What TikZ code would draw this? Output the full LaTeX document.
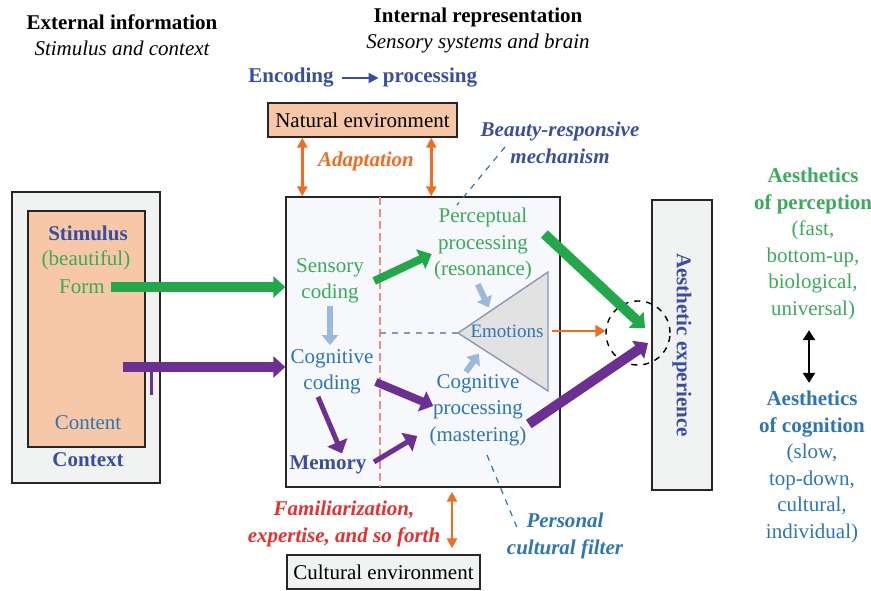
\documentclass[tikz,border=0pt]{standalone}
\usepackage{fontspec}
\setmainfont{Liberation Serif}
\usepackage{xcolor}
\usepackage{tikz}
\usetikzlibrary{arrows.meta,calc}

\definecolor{leafgreen}{HTML}{22A84A}
\definecolor{textgreen}{HTML}{3BAA5B}
\definecolor{inkblue}{HTML}{3A4E9F}
\definecolor{skyblue}{HTML}{2E75B6}
\definecolor{grape}{HTML}{6B3092}
\definecolor{tangerine}{HTML}{F26B23}
\definecolor{alertred}{HTML}{E8302E}
\definecolor{peach}{HTML}{F6C8A8}
\definecolor{paper}{HTML}{F1F2F2}
\definecolor{mist}{HTML}{F6F8FB}
\definecolor{steel}{HTML}{9CB8DB}
\definecolor{salmon}{HTML}{F28B8B}
\definecolor{slate}{HTML}{8A98B4}
\definecolor{cone}{HTML}{E2E2E2}

\begin{document}
\fontsize{10.5}{13.25}\selectfont
\begin{tikzpicture}[x=0.5pt,y=-0.5pt,
    every node/.style={align=center,inner sep=1pt},
    panel/.style={draw=black!85,line width=0.7pt,inner sep=0pt},
    fatarrow/.style={line width=#1,-{Triangle[length=6pt,width=10.5pt]}},
    hintarrow/.style={steel,line width=3pt,-{Triangle[length=5pt,width=8pt]}},
    twoway/.style={tangerine,line width=1.2pt,{Triangle[length=5pt,width=5pt]}-{Triangle[length=5pt,width=5pt]}}]
    \useasboundingbox (0,0) rectangle (871,590);

    % headings
    \node[font=\bfseries] (exthead) at (122,22) {External information};
    \node[font=\itshape] (extsub) at (122,48) {Stimulus and context};
    \node[font=\bfseries] (inthead) at (478,17) {Internal representation};
    \node[font=\itshape] (intsub) at (478,43) {Sensory systems and brain};
    \node[font=\bfseries,text=inkblue] (encode) at (291,78) {Encoding};
    \node[font=\bfseries,text=inkblue] (process) at (430,78) {processing};
    \draw[inkblue,line width=1pt,-{Triangle[length=5pt,width=5pt]},shorten <=3pt,shorten >=1pt] (encode) -- (process);

    % boxes
    \node[panel,fill=paper,minimum width=74pt,minimum height=145.5pt] (context) at (86,337.5) {};
    \node[panel,fill=peach,minimum width=58.5pt,minimum height=118pt] (stimbox) at (86.5,329) {};
    \node[panel,fill=peach,minimum width=94.5pt,minimum height=17pt] (natenv) at (362.5,120) {Natural environment};
    \node[panel,fill=mist,minimum width=137pt,minimum height=145pt] (brain) at (423,342) {};
    \node[panel,fill=paper,minimum width=30pt,minimum height=145pt] (aexp) at (682,345) {};
    \node[panel,fill=paper,minimum width=96.5pt,minimum height=17pt] (culenv) at (383.5,572) {Cultural environment};
    \node[rotate=-90,font=\bfseries,text=inkblue] (aexplabel) at (aexp.center) {Aesthetic experience};

    % stimulus side
    \node[font=\bfseries,text=inkblue] (stimulus) at (88,233) {Stimulus};
    \node[text=textgreen] (beautiful) at (86,260) {(beautiful)};
    \node[text=textgreen] (form) at (82,287) {Form};
    \node[text=skyblue] (content) at (88,423) {Content};
    \node[font=\bfseries,text=inkblue] (contextlabel) at (88,460) {Context};
    \coordinate (contentin) at (123,367);
    \draw[grape,line width=1.5pt] (151,367) -- (151,395);
    \draw[leafgreen,fatarrow=5pt,shorten <=2pt] (form.east) -- (form.east -| brain.west);
    \draw[grape,fatarrow=5pt] (contentin) -- (contentin -| brain.west);

    % divider and cone
    \coordinate (divtop) at (380,197);
    \coordinate (divbot) at (380,487);
    \draw[salmon,line width=0.8pt,dash pattern=on 4pt off 2pt] (divtop) -- (divbot);
    \coordinate (tipL) at (458,333);
    \coordinate (tipT) at (548,272);
    \coordinate (tipB) at (548,391);
    \draw[slate,fill=cone,line width=0.7pt] (tipL) -- (tipT) -- (tipB) -- cycle;
    \draw[slate,line width=0.8pt,dashed] (divtop |- tipL) -- (tipL);
    \node[text=skyblue,font=\fontsize{9.5}{11}\selectfont] (emotions) at (507,331) {Emotions};

    % processing stages
    \node[text=textgreen] (sensory) at (330,281) {Sensory\\coding};
    \node[text=skyblue] (cogcode) at (332,372) {Cognitive\\coding};
    \node[font=\bfseries,text=inkblue] (memory) at (328,465) {Memory};
    \node[text=textgreen] (percept) at (483,244) {Perceptual\\processing\\(resonance)};
    \node[text=skyblue] (cogproc) at (478,410) {Cognitive\\processing\\(mastering)};

    \draw[hintarrow,shorten >=1pt] (sensory.south) -- (sensory.south |- cogcode.north);
    \draw[hintarrow,shorten <=1pt,shorten >=2pt] ([xshift=-3pt]percept.south) -- ($(tipL)!0.36!(tipT)$);
    \draw[hintarrow,shorten >=3pt] ([xshift=-6pt]cogproc.north) -- ($(tipL)!0.27!(tipB)$);
    \draw[leafgreen,fatarrow=4pt] ([xshift=4pt]sensory.east) -- ([yshift=-5pt]percept.west);
    \draw[grape,fatarrow=4pt] ([yshift=-5pt]cogcode.east) -- ([shift={(3pt,2pt)}]cogproc.west);
    \draw[grape,fatarrow=2.5pt] ([xshift=-7pt]cogcode.south) -- ([xshift=7pt]memory.north);
    \draw[grape,fatarrow=2.5pt,shorten <=3pt] (memory.east) -- ([shift={(-5pt,-13pt)}]cogproc.west);

    % towards the experience
    \node[circle,draw,dashed,line width=0.7pt,minimum size=32pt,inner sep=0pt] (focus) at (638,333) {};
    \draw[tangerine,line width=1pt,-{Triangle[length=5pt,width=6pt]},shorten <=3pt] (emotions.east) -- (emotions.east -| focus.west);
    \draw[leafgreen,fatarrow=5pt] ([shift={(5pt,5pt)}]percept.east) -- ([shift={(3.5pt,2.5pt)}]focus.center);
    \draw[grape,fatarrow=5pt] ([yshift=-7pt]cogproc.east) -- ([shift={(5pt,-5pt)}]focus.center);

    % environments
    \coordinate (adaptL) at ([xshift=17.5pt]natenv.south west);
    \coordinate (adaptR) at ([xshift=82pt]natenv.south west);
    \draw[twoway] (adaptL) -- (adaptL |- brain.north);
    \draw[twoway] (adaptR) -- (adaptR |- brain.north);
    \node[font=\bfseries\itshape,text=tangerine] (adapt) at (366,161) {Adaptation};
    \coordinate (famtop) at ([xshift=14.5pt]brain.south);
    \draw[twoway,shorten <=2pt,shorten >=3pt] (famtop) -- (famtop |- culenv.north);
    \node[font=\bfseries\itshape,text=alertred] (familiar) at (344,524) {Familiarization,\\expertise, and so forth};

    % dashed pointers
    \node[font=\bfseries\itshape,text=inkblue] (beauty) at (560,143) {Beauty-responsive\\mechanism};
    \coordinate (beautyfrom) at (505,147);
    \coordinate (beautyto) at (457,205);
    \draw[skyblue,line width=0.6pt,dashed] (beautyfrom) -- (beautyto);
    \node[font=\bfseries\itshape,text=skyblue] (personal) at (565,536) {Personal\\cultural filter};
    \coordinate (filterfrom) at (487,455);
    \coordinate (filterto) at (518,530);
    \draw[skyblue,line width=0.6pt,dashed] (filterfrom) -- (filterto);

    % two aesthetics
    \node[text=textgreen] (perception) at (813,244) {\textbf{Aesthetics}\\\textbf{of perception}\\(fast,\\bottom-up,\\biological,\\universal)};
    \node[text=skyblue] (cognition) at (812,467) {\textbf{Aesthetics}\\\textbf{of cognition}\\(slow,\\top-down,\\cultural,\\individual)};
    \draw[line width=1.2pt,{Triangle[length=5pt,width=6pt]}-{Triangle[length=5pt,width=6pt]},shorten <=4pt,shorten >=3pt] ([xshift=-2pt]perception.south) -- ([xshift=-2pt]perception.south |- cognition.north);
\end{tikzpicture}
\end{document}
